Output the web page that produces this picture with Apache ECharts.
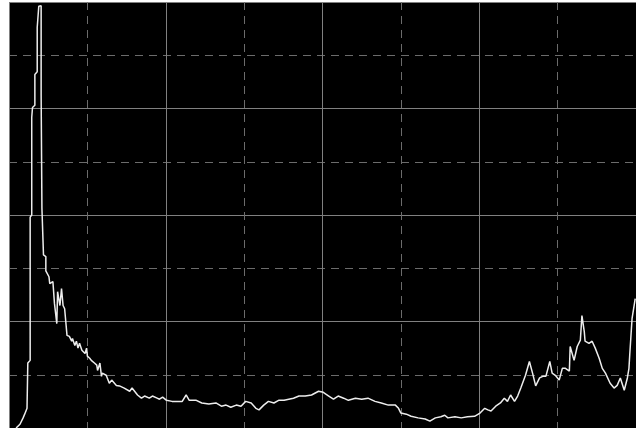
<!DOCTYPE html>
<html>
<head>
<meta charset="utf-8">
<script src="https://cdn.jsdelivr.net/npm/echarts@6/dist/echarts.min.js"></script>
<style>
  html, body { margin: 0; padding: 0; background: #ffffff; }
  #chart { width: 636px; height: 428px; }
</style>
</head>
<body>
<div id="chart"></div>
<script>
// Spectrum trace: channel position and measured level (8 divisions of 100 on each axis)
const channel = [
  9, 14, 18, 20, 23, 24, 27, 27, 29, 29, 30, 33, 33, 36, 36, 38, 38, 41, 41, 42,
  42, 44, 44, 47, 47, 51, 52, 56, 58, 61, 62, 65, 67, 69, 71, 74, 77, 80, 81, 84,
  86, 88, 90, 93, 97, 99, 100, 103, 105, 109, 112, 113, 116, 118, 119, 124, 128, 131, 137, 141,
  147, 154, 157, 164, 169, 173, 179, 183, 189, 192, 196, 201, 208, 221, 226, 230, 239, 246, 255, 264,
  271, 277, 283, 290, 296, 302, 309, 315, 319, 325, 331, 338, 344, 351, 357, 363, 370, 378, 386, 395,
  401, 408, 414, 420, 427, 433, 442, 450, 458, 467, 475, 484, 493, 497, 500, 507, 513, 522, 531, 537,
  544, 551, 556, 560, 569, 577, 585, 594, 601, 607, 611, 615, 621, 627, 632, 636, 640, 645, 649, 653,
  659, 664, 668, 672, 677, 681, 685, 690, 693, 697, 702, 706, 710, 715, 716, 721, 725, 729, 731, 734,
  735, 740, 744, 748, 753, 757, 761, 767, 772, 776, 780, 785, 789, 791, 792, 795, 799
];
const level = [
  0, 7, 19, 26, 37, 122, 127, 396, 400, 583, 602, 606, 664, 669, 752, 755, 792, 793, 626, 623,
  413, 410, 325, 322, 295, 284, 271, 275, 234, 196, 256, 230, 262, 230, 224, 174, 172, 163, 168, 155,
  163, 150, 159, 146, 140, 150, 135, 131, 127, 122, 118, 108, 122, 97, 103, 99, 84, 90, 80, 79,
  75, 69, 75, 62, 56, 60, 56, 60, 56, 54, 58, 52, 50, 50, 62, 52, 52, 47, 45, 47,
  41, 43, 39, 43, 41, 50, 47, 37, 34, 43, 50, 47, 52, 52, 54, 56, 60, 60, 62, 69,
  67, 60, 54, 60, 56, 52, 56, 54, 56, 50, 47, 43, 43, 37, 28, 26, 22, 19, 17, 13,
  19, 21, 24, 19, 21, 19, 21, 22, 28, 37, 34, 32, 41, 47, 56, 50, 62, 50, 60, 75,
  99, 125, 103, 79, 94, 97, 97, 125, 103, 99, 90, 112, 112, 107, 153, 127, 153, 165, 211, 181,
  163, 159, 163, 150, 131, 112, 103, 84, 75, 80, 94, 71, 94, 112, 137, 206, 243
];

const chart = echarts.init(document.getElementById('chart'), null, { renderer: 'canvas' });

const solidGrid = { color: '#808080', width: 1, type: 'solid' };
const dashGrid = { color: '#6c6c6c', width: 1, type: [8, 6] };

function axis() {
  return {
    type: 'value',
    min: 0,
    max: 800,
    interval: 200,
    axisLine: { show: false },
    axisTick: { show: false },
    axisLabel: { show: false },
    minorTick: { show: false, splitNumber: 2 },
    splitLine: { show: true, lineStyle: solidGrid },
    minorSplitLine: { show: true, lineStyle: dashGrid }
  };
}

chart.setOption({
  animation: false,
  backgroundColor: '#ffffff',
  grid: {
    left: 9, top: 2, width: 630, height: 428,
    show: true, backgroundColor: '#000000', borderWidth: 0
  },
  xAxis: axis(),
  yAxis: axis(),
  series: [{
    type: 'line',
    data: channel.map((c, i) => [c, level[i]]),
    showSymbol: false,
    clip: true,
    lineStyle: { color: '#ededed', width: 1.5 }
  }]
});
</script>
</body>
</html>
